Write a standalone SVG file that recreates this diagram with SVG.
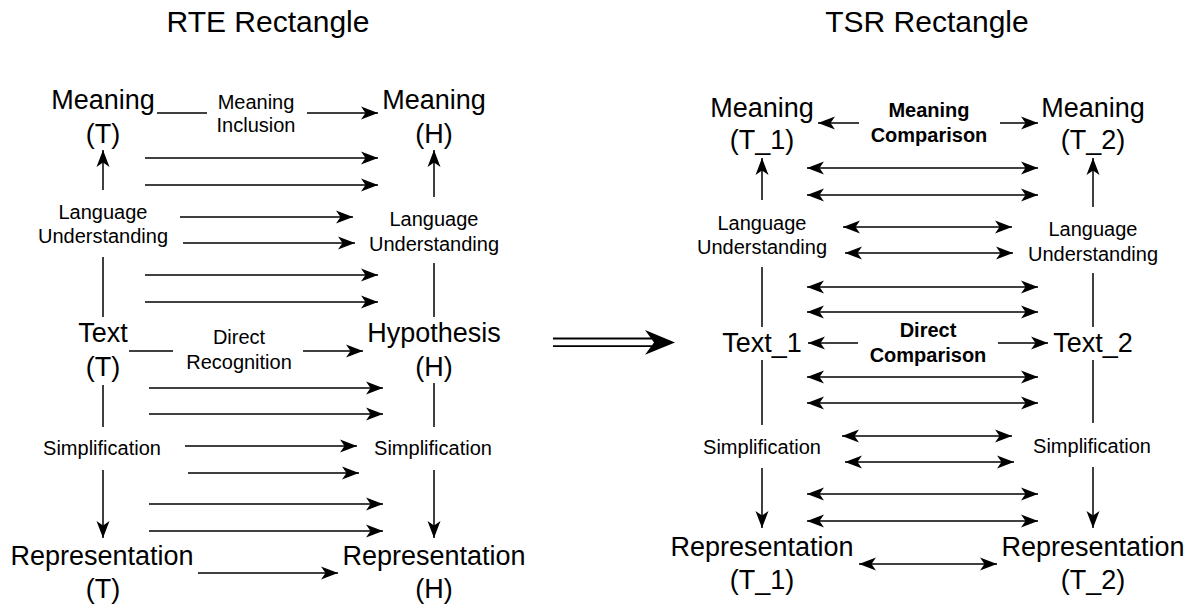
<svg xmlns="http://www.w3.org/2000/svg" width="1195" height="605" viewBox="0 0 1195 605">
  <style>
    text { font-family: "Liberation Sans", Arial, Helvetica, sans-serif; fill: #000; text-anchor: middle; }
    .big { font-size: 27px; }
    .mid { font-size: 20px; }
    .bold { font-size: 20px; font-weight: bold; }
    .title { font-size: 30px; }
    .edge { stroke: #000; stroke-width: 1.5; fill: none; }
    .one { marker-end: url(#head); }
    .two { marker-start: url(#head); marker-end: url(#head); }
  </style>
  <defs>
    <marker id="head" markerUnits="userSpaceOnUse" markerWidth="18" markerHeight="14" refX="17" refY="7" orient="auto-start-reverse" overflow="visible">
      <path d="M0,0.5 L17,7 L0,13.5 L4.5,7 Z" fill="#000"/>
    </marker>
  </defs>

  <rect width="1195" height="605" fill="#fff"/>

  <!-- titles -->
  <text class="title" x="268" y="32">RTE Rectangle</text>
  <text class="title" x="927" y="32">TSR Rectangle</text>

  <!-- RTE rectangle nodes -->
  <g id="rte-meaning-t"><text class="big" x="103" y="109">Meaning</text><text class="big" x="103" y="143">(T)</text></g>
  <g id="rte-meaning-h"><text class="big" x="434" y="109">Meaning</text><text class="big" x="434" y="143">(H)</text></g>
  <g id="rte-text-t"><text class="big" x="103" y="342">Text</text><text class="big" x="103" y="376">(T)</text></g>
  <g id="rte-hypothesis-h"><text class="big" x="434" y="342">Hypothesis</text><text class="big" x="434" y="376">(H)</text></g>
  <g id="rte-repr-t"><text class="big" x="102" y="565">Representation</text><text class="big" x="103" y="598">(T)</text></g>
  <g id="rte-repr-h"><text class="big" x="434" y="565">Representation</text><text class="big" x="434" y="598">(H)</text></g>

  <!-- TSR rectangle nodes -->
  <g id="tsr-meaning-t1"><text class="big" x="762" y="117">Meaning</text><text class="big" x="762" y="149">(T_1)</text></g>
  <g id="tsr-meaning-t2"><text class="big" x="1093" y="117">Meaning</text><text class="big" x="1093" y="149">(T_2)</text></g>
  <g id="tsr-text-1"><text class="big" x="762" y="352">Text_1</text></g>
  <g id="tsr-text-2"><text class="big" x="1093" y="352">Text_2</text></g>
  <g id="tsr-repr-t1"><text class="big" x="762" y="556">Representation</text><text class="big" x="762" y="589">(T_1)</text></g>
  <g id="tsr-repr-t2"><text class="big" x="1093" y="556">Representation</text><text class="big" x="1093" y="589">(T_2)</text></g>

  <!-- connectors -->
  <g id="connectors">
    <!-- RTE vertical processes -->
    <line class="edge one" x1="103" y1="190" x2="103" y2="150"/>
    <line class="edge" x1="103" y1="257" x2="103" y2="317"/>
    <line class="edge" x1="103" y1="385" x2="103" y2="427"/>
    <line class="edge one" x1="103" y1="470" x2="103" y2="538"/>
    <line class="edge one" x1="434" y1="197" x2="434" y2="150"/>
    <line class="edge" x1="434" y1="263" x2="434" y2="317"/>
    <line class="edge" x1="434" y1="383" x2="434" y2="427"/>
    <line class="edge one" x1="434" y1="470" x2="434" y2="538"/>

    <!-- RTE horizontal relations -->
    <line class="edge" x1="157" y1="113" x2="207" y2="113"/>
    <line class="edge one" x1="307" y1="113" x2="378" y2="113"/>
    <line class="edge one" x1="145" y1="158" x2="378" y2="158"/>
    <line class="edge one" x1="145" y1="185" x2="378" y2="185"/>
    <line class="edge one" x1="180" y1="217" x2="353" y2="217"/>
    <line class="edge one" x1="183" y1="243" x2="355" y2="243"/>
    <line class="edge one" x1="145" y1="275" x2="378" y2="275"/>
    <line class="edge one" x1="145" y1="302" x2="378" y2="302"/>
    <line class="edge" x1="129" y1="351" x2="173" y2="351"/>
    <line class="edge one" x1="303" y1="351" x2="363" y2="351"/>
    <line class="edge one" x1="149" y1="388" x2="383" y2="388"/>
    <line class="edge one" x1="149" y1="414" x2="383" y2="414"/>
    <line class="edge one" x1="185" y1="446" x2="357" y2="446"/>
    <line class="edge one" x1="188" y1="473" x2="359" y2="473"/>
    <line class="edge one" x1="149" y1="504" x2="383" y2="504"/>
    <line class="edge one" x1="149" y1="531" x2="383" y2="531"/>
    <line class="edge one" x1="198" y1="573" x2="338" y2="573"/>

    <!-- TSR vertical processes -->
    <line class="edge one" x1="762" y1="200" x2="762" y2="158"/>
    <line class="edge" x1="762" y1="267" x2="762" y2="327"/>
    <line class="edge" x1="762" y1="360" x2="762" y2="425"/>
    <line class="edge one" x1="762" y1="468" x2="762" y2="528"/>
    <line class="edge one" x1="1093" y1="207" x2="1093" y2="158"/>
    <line class="edge" x1="1093" y1="273" x2="1093" y2="327"/>
    <line class="edge" x1="1093" y1="360" x2="1093" y2="423"/>
    <line class="edge one" x1="1093" y1="467" x2="1093" y2="528"/>

    <!-- TSR comparisons -->
    <line class="edge one" x1="859" y1="123" x2="818" y2="123"/>
    <line class="edge one" x1="1000" y1="123" x2="1038" y2="123"/>
    <line class="edge two" x1="807" y1="168" x2="1038" y2="168"/>
    <line class="edge two" x1="807" y1="195" x2="1038" y2="195"/>
    <line class="edge two" x1="843" y1="227" x2="1012" y2="227"/>
    <line class="edge two" x1="845" y1="253" x2="1013" y2="253"/>
    <line class="edge two" x1="807" y1="287" x2="1038" y2="287"/>
    <line class="edge two" x1="807" y1="312" x2="1038" y2="312"/>
    <line class="edge one" x1="858" y1="343" x2="808" y2="343"/>
    <line class="edge one" x1="998" y1="343" x2="1048" y2="343"/>
    <line class="edge two" x1="807" y1="377" x2="1038" y2="377"/>
    <line class="edge two" x1="807" y1="403" x2="1038" y2="403"/>
    <line class="edge two" x1="842" y1="436" x2="1012" y2="436"/>
    <line class="edge two" x1="845" y1="462" x2="1014" y2="462"/>
    <line class="edge two" x1="807" y1="494" x2="1038" y2="494"/>
    <line class="edge two" x1="807" y1="521" x2="1038" y2="521"/>
    <line class="edge two" x1="859" y1="564" x2="997" y2="564"/>

    <!-- transition arrow between the two rectangles -->
    <g id="transition">
      <line x1="553" y1="338.5" x2="652" y2="338.5" stroke="#000" stroke-width="1.8"/>
      <line x1="553" y1="346.2" x2="652" y2="346.2" stroke="#000" stroke-width="1.8"/>
      <path d="M675,342.4 L645,330 L654,342.4 L645,354.8 Z" fill="#000"/>
    </g>
  </g>

  <!-- edge labels -->
  <g id="labels">
    <text class="mid" x="256" y="109">Meaning</text>
    <text class="mid" x="256" y="132">Inclusion</text>
    <text class="mid" x="103" y="219">Language</text>
    <text class="mid" x="103" y="243">Understanding</text>
    <text class="mid" x="434" y="226">Language</text>
    <text class="mid" x="434" y="251">Understanding</text>
    <text class="mid" x="239" y="344">Direct</text>
    <text class="mid" x="239" y="369">Recognition</text>
    <text class="mid" x="102" y="455">Simplification</text>
    <text class="mid" x="433" y="455">Simplification</text>

    <text class="bold" x="929" y="117">Meaning</text>
    <text class="bold" x="929" y="142">Comparison</text>
    <text class="mid" x="762" y="230">Language</text>
    <text class="mid" x="762" y="254">Understanding</text>
    <text class="mid" x="1093" y="236">Language</text>
    <text class="mid" x="1093" y="261">Understanding</text>
    <text class="bold" x="928" y="337">Direct</text>
    <text class="bold" x="928" y="362">Comparison</text>
    <text class="mid" x="762" y="454">Simplification</text>
    <text class="mid" x="1092" y="453">Simplification</text>
  </g>
</svg>
